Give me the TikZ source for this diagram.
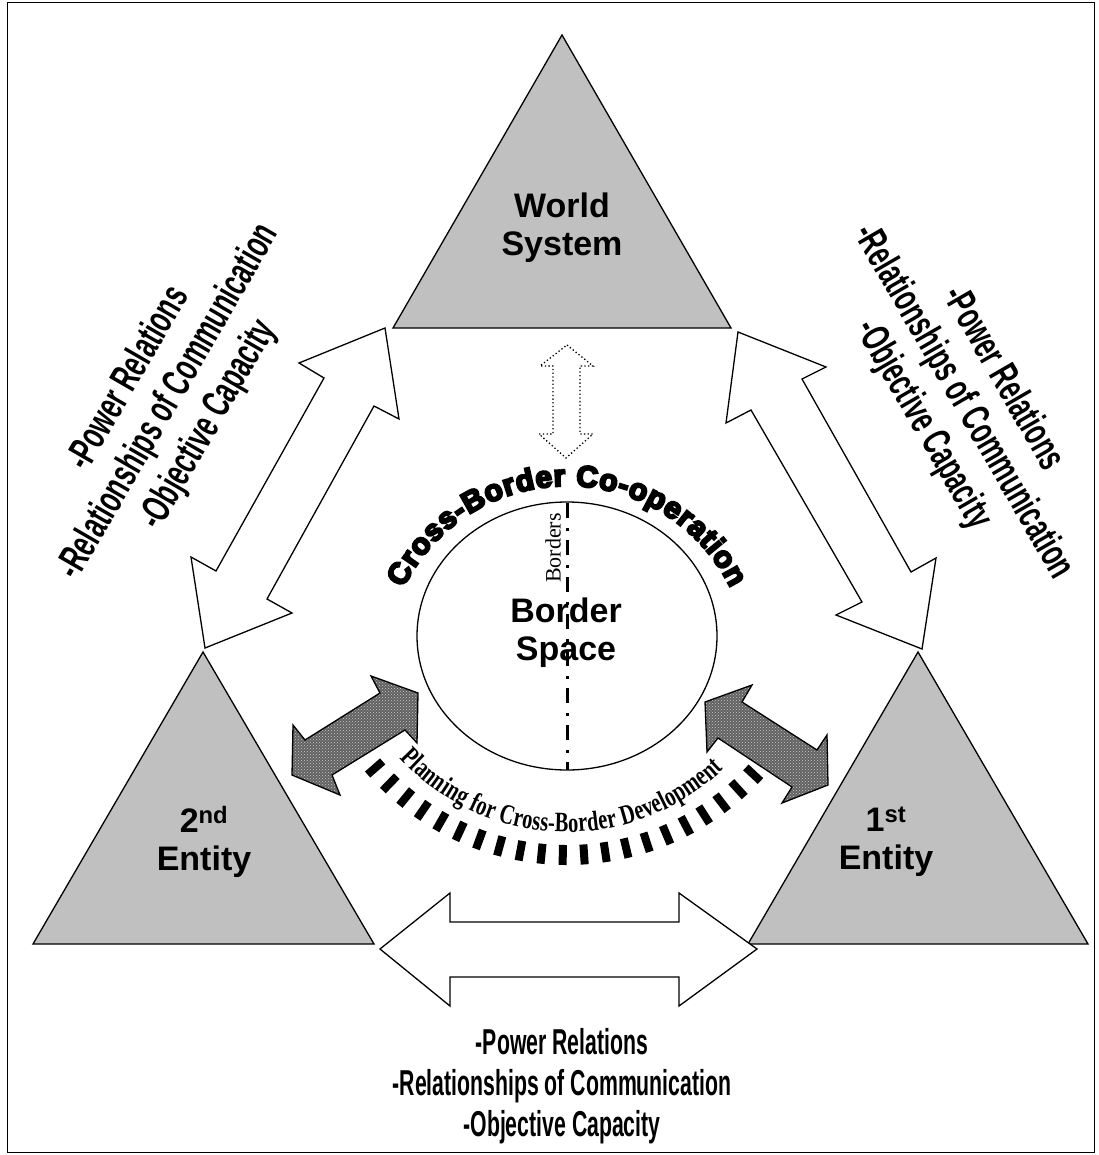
\documentclass[tikz,border=0pt]{standalone}
\usepackage{fontspec}
\setmainfont{Liberation Sans}
\newfontfamily\narrowfont{Liberation Sans}[FakeStretch=0.63]
\newfontfamily\narrowerfont{Liberation Sans}[FakeStretch=0.59]
\newfontfamily\heavyfont{Liberation Sans Bold}[FakeBold=7]
\newfontfamily\seriffont{Liberation Serif}
\newfontfamily\tallseriffont{Liberation Serif}[FakeStretch=0.73]
\usetikzlibrary{decorations.text,patterns}
\definecolor{triGray}{HTML}{C0C0C0}
\tikzset{
  frame/.style={draw=black, line width=1pt},
  entity/.style={draw=black, line width=1.3pt, fill=triGray, line join=miter},
  bigarrow/.style={draw=black, line width=1.3pt, fill=white, line join=miter},
  hatcharrow/.style={draw=black, line width=1.3pt, line join=miter,
    preaction={fill=black!62}, pattern=crosshatch dots, pattern color=white!80!black},
  dotarrow/.style={draw=black, line width=1.3pt, dash pattern=on 1.3pt off 2.4pt},
  spacering/.style={draw=black, line width=1.3pt, fill=white},
  borderline/.style={draw=black, line width=3pt, dash pattern=on 15pt off 10pt on 3pt off 9pt},
  bar/.style={draw=black, line width=8pt},
  title/.style={font=\bfseries\fontsize{34}{38}\selectfont, align=center, inner sep=0pt},
  relations/.style={font=\narrowfont\bfseries\fontsize{40}{46}\selectfont, align=center, inner sep=0pt},
  relationsbottom/.style={font=\narrowerfont\bfseries\fontsize{36}{41}\selectfont, align=center, inner sep=0pt}
}
\begin{document}
\begin{tikzpicture}[x=1pt,y=-1pt]
\useasboundingbox (0,0) rectangle (1098,1155);
\draw[frame] (7,3) rectangle (1094,1152);

% the three actors
\draw[entity] (393,328) -- (731,328) -- (562,35) -- cycle;
\draw[entity] (33,944) -- (374,944) -- (203,652) -- cycle;
\draw[entity] (748,944) -- (1088,944) -- (918,652) -- cycle;

% relation arrows between the actors
\draw[bigarrow] (385,328) -- (399,419) -- (374,406) -- (267,599) -- (292,613)
  -- (205,648) -- (191,557) -- (216,571) -- (324,378) -- (299,363) -- cycle;
\draw[bigarrow] (738,332) -- (826,367) -- (802,379) -- (911,572) -- (936,558)
  -- (922,649) -- (836,615) -- (862,602) -- (751,410) -- (726,423) -- cycle;
\draw[bigarrow] (380,949) -- (450,893) -- (450,922) -- (679,922) -- (679,893)
  -- (757,949) -- (679,1006) -- (679,977) -- (450,977) -- (450,1006) -- cycle;

% world system <-> border space
\draw[dotarrow] (567,345) -- (593,366) -- (580,366) -- (580,434) -- (593,434)
  -- (566,458) -- (539,434) -- (553,434) -- (553,366) -- (540,366) -- cycle;

% planning arrows towards the entities
\draw[hatcharrow] (292,775) -- (293,725) -- (305,740) -- (380,693) -- (371,676)
  -- (418,693) -- (417,743) -- (405,730) -- (332,775) -- (340,795) -- cycle;
\draw[hatcharrow] (705,702) -- (752,685) -- (742,702) -- (817,750) -- (827,735)
  -- (828,785) -- (782,803) -- (792,787) -- (718,738) -- (707,752) -- cycle;

% border space
\draw[spacering] (567,636) ellipse[x radius=150, y radius=134];
\coordinate (topB) at (567,503);
\coordinate (botB) at (567,770);
\draw[borderline] (topB) -- (botB);
\node[rotate=90, font=\seriffont\fontsize{22}{22}\selectfont, inner sep=0pt] (borders) at (553,548) {Borders};

% arcs of text and the planning bars
\coordinate (coopC) at (567,668);
\path[decorate, decoration={text along path, text align=fit to path,
  text={|\heavyfont\fontsize{30}{30}\selectfont|Cross-Border Co-operation}}]
  (coopC) ++(206:182) arc[start angle=206, end angle=334, radius=182];
\coordinate (planT) at (567,605);
\path[decorate, decoration={text along path, text align=fit to path,
  text={|\tallseriffont\bfseries\fontsize{28}{28}\selectfont|Planning for Cross-Border Development}}]
  (planT) ++(137.4:227) arc[start angle=137.4, end angle=46.3, radius=227];
\coordinate (planC) at (567,600);
\foreach \a in {0,...,20}{
  \pgfmathsetmacro{\ang}{138.8-\a*4.785}
  \draw[bar] ([shift={(\ang:245)}]planC) -- ([shift={(\ang:265)}]planC);
}

% labels
\node[title] (world) at (562,228) {World\\System};
\node[title] (space) at (566,633) {Border\\Space};
\node[title] (second) at (204,842) {2\textsuperscript{nd}\\Entity};
\node[title] (first) at (886,842) {1\textsuperscript{st}\\Entity};

\node[relations, rotate=60] (relL) at (169,402)
  {-Power Relations\\-Relationships of Communication\\-Objective Capacity};
\node[relations, rotate=-60] (relR) at (963,402)
  {-Power Relations\\-Relationships of Communication\\-Objective Capacity};
\node[relationsbottom] (relB) at (562,1086)
  {-Power Relations\\-Relationships of Communication\\-Objective Capacity};
\end{tikzpicture}
\end{document}
